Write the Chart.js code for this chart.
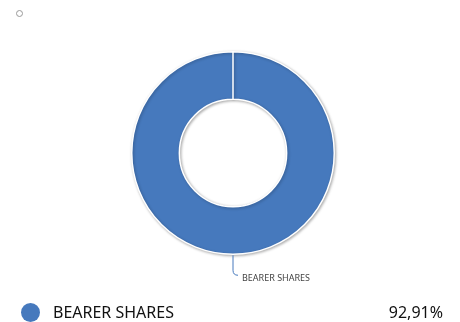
<!DOCTYPE html>
<html><head><meta charset="utf-8">
<script src="https://cdn.jsdelivr.net/npm/chart.js@4/dist/chart.umd.min.js"></script>
<style>
html,body{margin:0;padding:0;background:#fff;}
#wrap{position:relative;width:460px;height:322px;overflow:hidden;font-family:"Noto Sans",sans-serif;}
canvas{position:absolute;left:0;top:0;}
#dot{position:absolute;left:16px;top:10px;width:5px;height:5px;border:1px solid #999;border-radius:50%;}
.leg{position:absolute;left:0;width:460px;height:24px;}
.leg .sw{position:absolute;left:21px;top:3px;width:19px;height:19px;border-radius:50%;}
.leg .nm{position:absolute;left:53px;top:0;font-size:16px;line-height:24px;color:#111;}
.leg .vl{position:absolute;right:17px;top:0;font-size:16px;line-height:24px;color:#111;}
</style></head>
<body><div id="wrap"><canvas id="c" width="460" height="322"></canvas><div id="dot"></div></div>
<script>
const categories = ["BEARER SHARES"];
const values = [92.91];
const valueLabels = ["92,91%"];
const colors = ["#4679bd"];

const leader = {
  id:'leader',
  beforeDatasetsDraw(chart){
    const ctx=chart.ctx; ctx.save();
    ctx.shadowColor='rgba(0,0,0,0.3)'; ctx.shadowBlur=3; ctx.shadowOffsetX=1; ctx.shadowOffsetY=1;
  },
  afterDatasetsDraw(chart){
    const ctx=chart.ctx; ctx.restore();
    const meta=chart.getDatasetMeta(0);
    meta.data.forEach((arc,i)=>{
      const p=arc.getProps(['x','y','startAngle','endAngle','outerRadius'],true);
      const mid=(p.startAngle+p.endAngle)/2;
      const sx=p.x+Math.cos(mid)*(p.outerRadius+1), sy=p.y+Math.sin(mid)*(p.outerRadius+1);
      ctx.save();
      ctx.strokeStyle=colors[i]; ctx.lineWidth=1;
      ctx.beginPath(); ctx.moveTo(sx,sy); ctx.lineTo(sx,sy+15);
      ctx.quadraticCurveTo(sx,sy+20,sx+5,sy+20); ctx.stroke();
      ctx.fillStyle='#444'; ctx.font='9px "Noto Sans"'; ctx.textBaseline='middle';
      ctx.fillText(categories[i], sx+9, sy+23);
      ctx.restore();
    });
  }
};

new Chart(document.getElementById('c'),{
  type:'doughnut',
  data:{labels:categories,datasets:[{data:values,backgroundColor:colors,borderColor:'#fff',borderWidth:1.5}]},
  options:{
    responsive:false,animation:false,cutout:'53%',
    layout:{padding:{left:6,top:51,bottom:67,right:0}},
    plugins:{legend:{display:false},tooltip:{enabled:false}}
  },
  plugins:[leader]
});

const wrap=document.getElementById('wrap');
categories.forEach((c,i)=>{
  const d=document.createElement('div'); d.className='leg'; d.style.top=(300+i*24)+'px';
  d.innerHTML='<span class="sw" style="background:'+colors[i]+'"></span><span class="nm"></span><span class="vl"></span>';
  d.querySelector('.nm').textContent=c; d.querySelector('.vl').textContent=valueLabels[i];
  wrap.appendChild(d);
});
</script></body></html>
